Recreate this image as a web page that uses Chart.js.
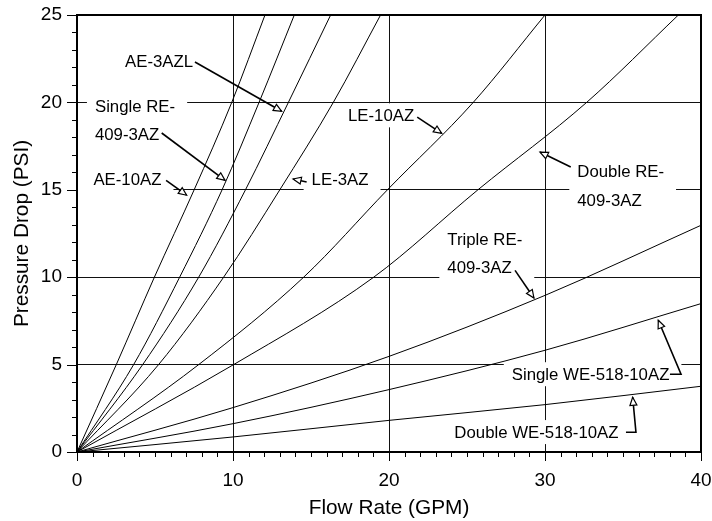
<!DOCTYPE html>
<html>
<head>
<meta charset="utf-8">
<script src="https://cdn.jsdelivr.net/npm/chart.js@4.4.1/dist/chart.umd.min.js"></script>
<style>
html,body{margin:0;padding:0;background:#fff;}
canvas{display:block;}
</style>
</head>
<body>
<canvas id="c" width="712" height="521"></canvas>
<script>
// ---- Data ----
// Curves read at their crossings with the pressure grid lines (0,5,10,15,20,25 PSI)
const pressureSteps = [0, 5, 10, 15, 20, 25];
const ae10azFlow      = [0, 2.52, 4.96, 7.51, 9.92, 12.05];
const singleRe409Flow = [0, 3.63, 6.58, 9.30, 11.67, 13.93];
const ae3azlFlow      = [0, 4.21, 7.80, 10.80, 13.55, 16.26];
const le3azFlow       = [0, 5.23, 9.40, 13.00, 16.43, 19.46];
const le10azFlow      = [0, 7.80, 14.53, 19.90, 25.40, 30.00];
const doubleRe409Flow = [0, 10.04, 19.02, 25.70, 32.67, 38.55];
// Curves read at the flow grid lines (0,10,20,30,40 GPM)
const flowSteps = [0, 10, 20, 30, 40];
const tripleRe409Psi  = [0, 2.54, 5.47, 8.96, 12.97];
const singleWe518Psi  = [0, 1.62, 3.57, 5.82, 8.49];
const doubleWe518Psi  = [0, 0.86, 1.81, 2.71, 3.76];

const xTickLabels = ['0', '10', '20', '30', '40'];
const yTickLabels = ['0', '5', '10', '15', '20', '25'];

const FONT = "'Liberation Sans', Arial, Helvetica, sans-serif";

function pairsFlow(flows, psis) { return flows.map((f, i) => ({x: f, y: psis[i]})); }

const series = [
  pairsFlow(ae10azFlow, pressureSteps),
  pairsFlow(singleRe409Flow, pressureSteps),
  pairsFlow(ae3azlFlow, pressureSteps),
  pairsFlow(le3azFlow, pressureSteps),
  pairsFlow(le10azFlow, pressureSteps),
  pairsFlow(doubleRe409Flow, pressureSteps),
  pairsFlow(flowSteps, tripleRe409Psi),
  pairsFlow(flowSteps, singleWe518Psi),
  pairsFlow(flowSteps, doubleWe518Psi)
];
const seriesNames = ['AE-10AZ', 'Single RE-409-3AZ', 'AE-3AZL', 'LE-3AZ', 'LE-10AZ',
  'Double RE-409-3AZ', 'Triple RE-409-3AZ', 'Single WE-518-10AZ', 'Double WE-518-10AZ'];

// Callout labels (placement in data units; leader path ends at arrow tip on the curve)
const callouts = [
  {lines: ['AE-3AZL'], at: [3.08, 22.35], path: [[7.56, 22.31], [13.12, 19.49]]},
  {lines: ['Single RE-', '409-3AZ'], at: [1.15, 19.80], path: [[5.43, 18.25], [9.49, 15.54]]},
  {lines: ['AE-10AZ'], at: [1.05, 15.58], path: [[5.71, 15.54], [7.03, 14.69]], box: [0.0, null]},
  {lines: ['LE-3AZ'], at: [15.04, 15.60], path: [[14.72, 15.45], [13.85, 15.62]]},
  {lines: ['LE-10AZ'], at: [17.37, 19.26], path: [[21.81, 19.16], [23.38, 18.23]]},
  {lines: ['Double RE-', '409-3AZ'], at: [32.07, 16.03], path: [[31.65, 16.30], [29.68, 17.16]]},
  {lines: ['Triple RE-', '409-3AZ'], at: [23.74, 12.17], path: [[28.08, 10.39], [29.29, 8.81]]},
  {lines: ['Single WE-518-10AZ'], at: [27.87, 4.45], path: [[38.01, 4.45], [38.72, 4.45], [37.26, 7.54]]},
  {lines: ['Double WE-518-10AZ'], at: [24.19, 1.14], path: [[35.19, 1.13], [35.83, 1.13], [35.62, 3.13]]}
];

const LABEL_SIZE = 16.8;
const LINE_GAP = 28.5;

const calloutPlugin = {
  id: 'callouts',
  beforeDatasetsDraw(chart) {
    const ctx = chart.ctx, xs = chart.scales.x, ys = chart.scales.y, area = chart.chartArea;
    ctx.save();
    ctx.font = LABEL_SIZE + 'px ' + FONT;
    ctx.textBaseline = 'middle';
    ctx.textAlign = 'left';
    callouts.forEach(c => {
      const x0 = xs.getPixelForValue(c.at[0]);
      const y0 = ys.getPixelForValue(c.at[1]);
      let w = 0;
      c.lines.forEach(t => { w = Math.max(w, ctx.measureText(t).width); });
      let bl = x0 - 8, br = x0 + w + 12;
      const bt = y0 - 12, bb = y0 + (c.lines.length - 1) * LINE_GAP + 12;
      if (c.box) bl = xs.getPixelForValue(c.box[0]) + 1;
      bl = Math.max(bl, area.left + 1);
      br = Math.min(br, area.right - 1);
      ctx.fillStyle = '#fff';
      ctx.fillRect(bl, bt, br - bl, bb - bt);
      ctx.fillStyle = '#000';
      c.lines.forEach((t, i) => ctx.fillText(t, x0, y0 + i * LINE_GAP + 1));
      // leader
      const pts = c.path.map(p => [xs.getPixelForValue(p[0]), ys.getPixelForValue(p[1])]);
      ctx.strokeStyle = '#000';
      ctx.lineWidth = 1.6;
      ctx.beginPath();
      ctx.moveTo(pts[0][0], pts[0][1]);
      for (let i = 1; i < pts.length; i++) ctx.lineTo(pts[i][0], pts[i][1]);
      ctx.stroke();
      // open arrow head
      const tip = pts[pts.length - 1], prev = pts[pts.length - 2];
      const ang = Math.atan2(tip[1] - prev[1], tip[0] - prev[0]);
      const L = 8, W = 3.5;
      const bx = tip[0] - L * Math.cos(ang), by = tip[1] - L * Math.sin(ang);
      ctx.beginPath();
      ctx.moveTo(tip[0], tip[1]);
      ctx.lineTo(bx + W * Math.sin(ang), by - W * Math.cos(ang));
      ctx.lineTo(bx - W * Math.sin(ang), by + W * Math.cos(ang));
      ctx.closePath();
      ctx.fillStyle = '#fff';
      ctx.fill();
      ctx.lineWidth = 1.2;
      ctx.stroke();
    });
    ctx.restore();
  },
  afterDraw(chart) {
    const ctx = chart.ctx, xs = chart.scales.x, ys = chart.scales.y, a = chart.chartArea;
    ctx.save();
    ctx.strokeStyle = '#000';
    ctx.lineWidth = 1;
    ctx.beginPath();
    for (let v = xs.min; v <= xs.max; v++) {
      const px = Math.round(xs.getPixelForValue(v)) + 0.5;
      const len = (v % 10 === 0) ? 9 : 5;
      ctx.moveTo(px, a.bottom);
      ctx.lineTo(px, a.bottom + len);
    }
    for (let v = ys.min; v <= ys.max; v++) {
      const py = Math.round(ys.getPixelForValue(v)) + 0.5;
      const len = (v % 5 === 0) ? 10 : 5;
      ctx.moveTo(a.left - len, py);
      ctx.lineTo(a.left, py);
    }
    ctx.stroke();
    ctx.lineWidth = 2;
    ctx.strokeRect(Math.round(a.left), Math.round(a.top), Math.round(a.right - a.left), Math.round(a.bottom - a.top));
    ctx.restore();
  }
};

const datasets = series.map((d, i) => ({
  label: seriesNames[i],
  data: d,
  borderColor: '#000',
  borderWidth: 1,
  pointRadius: 0,
  fill: false,
  cubicInterpolationMode: 'monotone'
}));

new Chart(document.getElementById('c'), {
  type: 'line',
  data: {datasets},
  options: {
    responsive: false,
    animation: false,
    devicePixelRatio: 1,
    layout: {padding: {left: 0, right: 11, top: 15, bottom: 0}},
    plugins: {legend: {display: false}, tooltip: {enabled: false}},
    scales: {
      x: {
        type: 'linear', min: 0, max: 40,
        afterBuildTicks(s) { s.ticks = Array.from({length: 41}, (_, i) => ({value: i})); },
        ticks: {
          autoSkip: false, maxRotation: 0, color: '#000', padding: 17,
          font: {size: 19, family: FONT},
          callback: v => (v % 10 === 0 ? xTickLabels[v / 10] : '')
        },
        grid: {
          drawTicks: false, lineWidth: 1,
          color: c => (c.tick && c.tick.value % 10 === 0 && c.tick.value > 0 && c.tick.value < 40) ? '#111' : 'rgba(0,0,0,0)'
        },
        border: {display: false},
        title: {display: true, text: 'Flow Rate (GPM)', color: '#000', font: {size: 20.8, family: FONT}, padding: {top: 0, bottom: 0}},
        afterFit(s) { s.height = 69; s.paddingLeft = 0; s.paddingRight = 0; }
      },
      y: {
        type: 'linear', min: 0, max: 25,
        afterBuildTicks(s) { s.ticks = Array.from({length: 26}, (_, i) => ({value: i})); },
        ticks: {
          autoSkip: false, color: '#000', padding: 15,
          font: {size: 19, family: FONT},
          callback: v => (v % 5 === 0 ? yTickLabels[v / 5] : '')
        },
        grid: {
          drawTicks: false, lineWidth: 1,
          color: c => (c.tick && c.tick.value % 5 === 0 && c.tick.value > 0 && c.tick.value < 25) ? '#111' : 'rgba(0,0,0,0)'
        },
        border: {display: false},
        title: {display: true, text: 'Pressure Drop (PSI)', color: '#000', font: {size: 20.8, family: FONT}, padding: {top: 10, bottom: 0}},
        afterFit(s) { s.width = 77; s.paddingTop = 0; s.paddingBottom = 0; }
      }
    }
  },
  plugins: [calloutPlugin]
});
</script>
</body>
</html>
